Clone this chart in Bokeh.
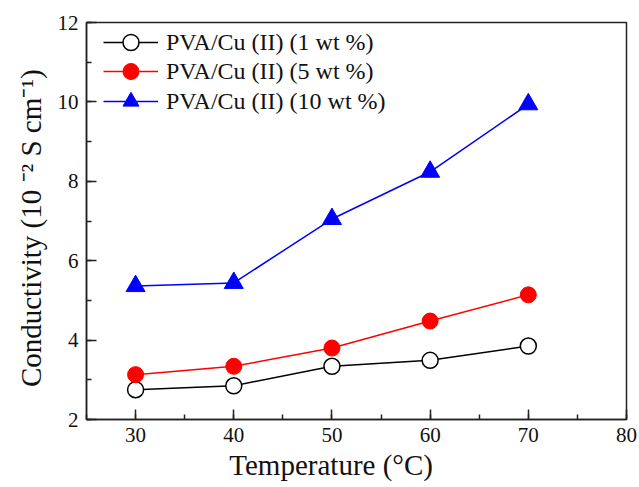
from bokeh.plotting import figure
from bokeh.models import Range1d, Legend, LegendItem, SingleIntervalTicker
from bokeh.embed import file_html
from bokeh.resources import INLINE

temperature = [30, 40, 50, 60, 70]
cond_1wt = [2.75, 2.85, 3.34, 3.49, 3.85]
cond_5wt = [3.13, 3.34, 3.80, 4.48, 5.14]
cond_10wt = [5.36, 5.44, 7.05, 8.24, 9.94]
series_labels = ["PVA/Cu (II) (1 wt %)", "PVA/Cu (II) (5 wt %)", "PVA/Cu (II) (10 wt %)"]
x_label = "Temperature (\u00b0C)"
y_label = "Conductivity (10 \u207b\u00b2 S cm\u207b\u00b9)"

FONT = "Liberation Serif"
NBSP = "\u00a0"

p = figure(width=639, height=487, output_backend="svg", toolbar_location=None,
           x_range=Range1d(25, 80), y_range=Range1d(2, 12),
           min_border_left=86, min_border_right=13, min_border_top=22, min_border_bottom=68)
p.grid.visible = False
p.background_fill_color = "white"
p.border_fill_color = "white"
p.outline_line_color = "#222222"
p.outline_line_width = 1.5

p.xaxis.ticker = SingleIntervalTicker(interval=10, num_minor_ticks=2)
p.yaxis.ticker = SingleIntervalTicker(interval=2, num_minor_ticks=2)
for ax in (p.xaxis, p.yaxis):
    ax.axis_line_color = "#222222"
    ax.axis_line_width = 1.5
    ax.major_tick_line_color = "#222222"
    ax.minor_tick_line_color = "#222222"
    ax.major_tick_line_width = 1.5
    ax.minor_tick_line_width = 1.5
    ax.major_tick_in = 10
    ax.major_tick_out = 0
    ax.minor_tick_in = 5
    ax.minor_tick_out = 0
    ax.major_label_text_font = FONT
    ax.major_label_text_font_size = "21px"
    ax.major_label_text_color = "#111111"
    ax.axis_label_text_font = FONT
    ax.axis_label_text_font_size = "29px"
    ax.axis_label_text_font_style = "normal"
    ax.axis_label_text_color = "#111111"
# trailing no-break spaces nudge the labels off-centre, as in the reference
p.xaxis.axis_label = x_label + NBSP * 7
p.yaxis.axis_label = y_label + NBSP * 2
p.xaxis.major_label_standoff = 8
p.yaxis.major_label_standoff = 8
p.xaxis.axis_label_standoff = 4
p.yaxis.axis_label_standoff = 8

l1 = p.line(temperature, cond_1wt, line_color="black", line_width=1.5)
s1 = p.scatter(temperature, cond_1wt, marker="circle", size=16, fill_color="white",
               line_color="black", line_width=1.5)
l2 = p.line(temperature, cond_5wt, line_color="#ff0000", line_width=1.5)
s2 = p.scatter(temperature, cond_5wt, marker="circle", size=16, fill_color="#ff0000",
               line_color="#ff0000", line_width=1)
l3 = p.line(temperature, cond_10wt, line_color="#0000ff", line_width=1.5)
s3 = p.scatter(temperature, cond_10wt, marker="triangle", size=19, fill_color="#0000ff",
               line_color="#0000ff", line_width=1)

pairs = [(l1, s1), (l2, s2), (l3, s3)]
row_offsets = [357, 328, 298]
for (ln, sc), lab, yoff in zip(pairs, series_labels, row_offsets):
    lg = Legend(items=[LegendItem(label=lab, renderers=[ln, sc])], location=(17, yoff))
    lg.border_line_color = None
    lg.background_fill_alpha = 0
    lg.margin = 0
    lg.padding = 0
    lg.glyph_width = 55
    lg.glyph_height = 40
    lg.label_height = 40
    lg.label_standoff = 8
    lg.label_text_font = FONT
    lg.label_text_font_size = "24px"
    lg.label_text_color = "#111111"
    p.add_layout(lg)

open("out.html", "w").write(file_html(p, INLINE))
